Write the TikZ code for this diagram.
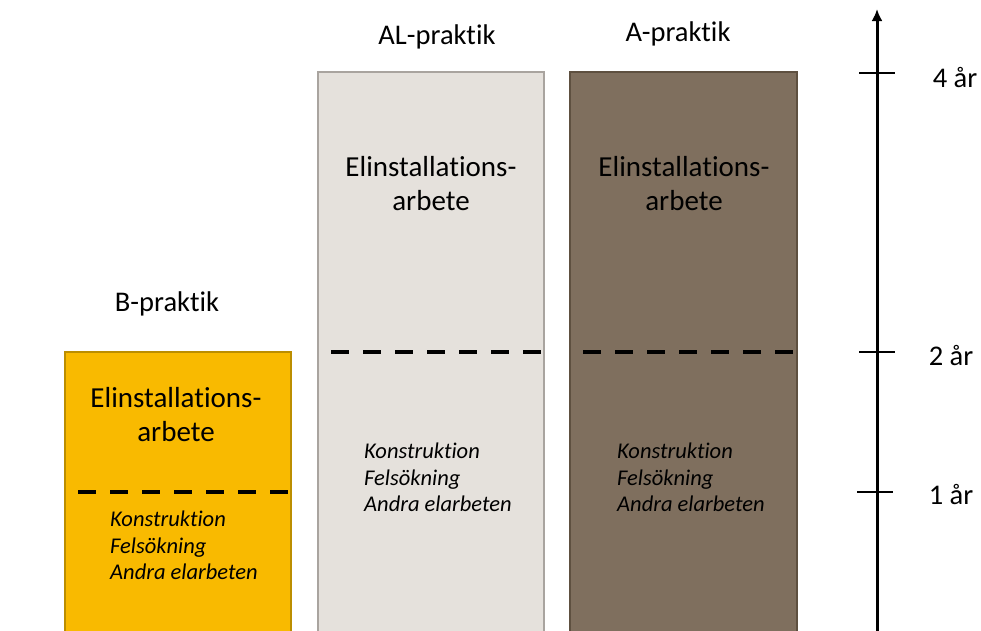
\documentclass[tikz,border=0pt]{standalone}
\usepackage{fontspec}
\setmainfont[Ligatures=NoCommon]{Carlito}
\usetikzlibrary{arrows.meta}
\begin{document}
\begin{tikzpicture}[x=1pt,y=-1pt,
  col/.style={line width=2pt},
  sep/.style={line width=4pt, dash pattern=on 18pt off 14pt, dash phase=-12pt},
  head/.style={font=\fontsize{28.5}{34}\selectfont, inner sep=0pt},
  main/.style={font=\fontsize{29}{34}\selectfont, align=center, inner sep=0pt},
  list/.style={font=\fontsize{22.5}{26.5}\selectfont\itshape, anchor=base west, inner sep=0pt},
  yr/.style={font=\fontsize{28.5}{34}\selectfont, inner sep=0pt},
  tick/.style={line width=1.2pt}]
\useasboundingbox (0,0) rectangle (981,630);
\clip (0,0) rectangle (981,630);
\definecolor{bfill}{HTML}{F9BA00}
\definecolor{bline}{HTML}{BC8E00}
\definecolor{alfill}{HTML}{E5E1DC}
\definecolor{alline}{HTML}{A9A49F}
\definecolor{afill}{HTML}{7F6F5E}
\definecolor{aline}{HTML}{5E5040}
% boxes
\draw[col, fill=bfill, draw=bline] (65,352) rectangle (291,640);
\draw[col, fill=alfill, draw=alline] (318,72) rectangle (544,640);
\draw[col, fill=afill, draw=aline] (570,72) rectangle (797,640);
% separators
\coordinate (bs1) at (66,492); \coordinate (bs2) at (290,492);
\coordinate (als1) at (319,352); \coordinate (als2) at (543,352);
\coordinate (as1) at (571,352); \coordinate (as2) at (796,352);
\draw[sep] (bs1) -- (bs2);
\draw[sep] (als1) -- (als2);
\draw[sep] (as1) -- (as2);
% headings
\node[head] (hb) at (167,304) {B-praktik};
\node[head] (hal) at (437,37) {AL-praktik};
\node[head] (ha) at (678,34) {A-praktik};
% main texts
\node[main] (mb) at (176,415) {Elinstallations-\\arbete};
\node[main] (mal) at (431,184) {Elinstallations-\\arbete};
\node[main] (ma) at (684,184) {Elinstallations-\\arbete};
% lists
\node[list] (lb1) at (110,526) {Konstruktion};
\node[list] (lb2) at (110,553) {Felsökning};
\node[list] (lb3) at (110,579) {Andra elarbeten};
\node[list] (lal1) at (364,458) {Konstruktion};
\node[list] (lal2) at (364,485) {Felsökning};
\node[list] (lal3) at (364,511) {Andra elarbeten};
\node[list] (la1) at (617,458) {Konstruktion};
\node[list] (la2) at (617,485) {Felsökning};
\node[list] (la3) at (617,511) {Andra elarbeten};
% axis
\coordinate (axb) at (877,640);
\coordinate (axt) at (877,9);
\draw[line width=3pt, -{Latex[length=12pt,width=11pt]}] (axb) -- (axt);
\coordinate (t4a) at (859,73); \coordinate (t4b) at (895,73);
\coordinate (t2a) at (859,352); \coordinate (t2b) at (895,352);
\coordinate (t1a) at (857,492); \coordinate (t1b) at (893,492);
\draw[tick] (t4a) -- (t4b);
\draw[tick] (t2a) -- (t2b);
\draw[tick] (t1a) -- (t1b);
\node[yr] (y4) at (955,78) {4 år};
\node[yr] (y2) at (951,355) {2 år};
\node[yr] (y1) at (951,494) {1 år};
\end{tikzpicture}
\end{document}
